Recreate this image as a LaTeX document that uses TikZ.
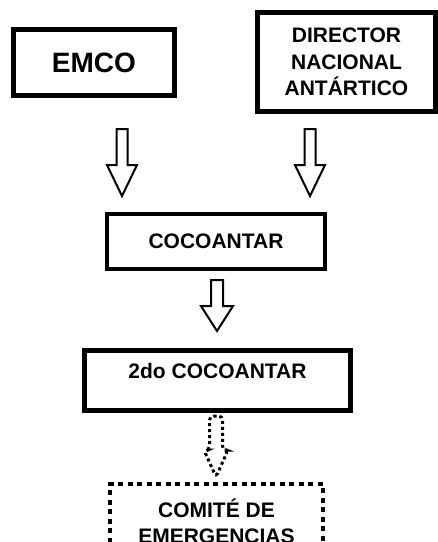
\documentclass[tikz,border=0pt]{standalone}
\usepackage{fontspec}
\setmainfont{Liberation Sans}
\usetikzlibrary{positioning}

\begin{document}
\begin{tikzpicture}[x=1pt,y=-1pt,
    box/.style={draw,line width=4.5pt,inner sep=0pt,align=center,
        font=\bfseries\fontsize{21}{26.5}\selectfont},
    dotbox/.style={draw,line width=4pt,dash pattern=on 5pt off 4.5pt,inner sep=0pt},
    txt/.style={inner sep=0pt,align=center,font=\bfseries\fontsize{21}{26}\selectfont},
    arrowline/.style={draw,line width=2pt,miter limit=20},
    dotarrow/.style={draw,line width=3pt,dash pattern=on 3pt off 3pt,rounded corners=4pt}]
\useasboundingbox (0,0) rectangle (438,542);
\clip (0,0) rectangle (438,542);

% upper boxes
\node[box, minimum width=161, minimum height=66,
      font=\bfseries\fontsize{28}{32}\selectfont] (emco) at (94,62.5) {EMCO};
\node[box, minimum width=178, minimum height=99] (director) at (346.5,62)
    {DIRECTOR\\NACIONAL\\ANTÁRTICO};

% chain below
\node[box, minimum width=218, minimum height=55] (cocoantar) at (216,241.5) {COCOANTAR};
\node[box, minimum width=266, minimum height=60, text depth=20pt] (second) at (217.5,380.5)
    {2do COCOANTAR};
\node[dotbox, minimum width=213, minimum height=100, anchor=north] (comite) at (216.5,482) {};
\node[txt, anchor=north] (comitetxt) at (216.5,499) {COMITÉ DE\\EMERGENCIAS};

% block arrows
\coordinate (emcoarr) at (122,129);
\coordinate (dirarr) at (310,129);
\coordinate (cocoarr) at (217,280);
\coordinate (secarr) at (216,416);

\draw[arrowline] (emcoarr) ++(-5.5,0) -- ++(11,0) -- ++(0,36) -- ++(9.5,0)
    -- ++(-15,31) -- ++(-15,-31) -- ++(9.5,0) -- cycle;
\draw[arrowline] (dirarr) ++(-5.5,0) -- ++(11,0) -- ++(0,36) -- ++(9.5,0)
    -- ++(-15,31) -- ++(-15,-31) -- ++(9.5,0) -- cycle;
\draw[arrowline] (cocoarr) ++(-6,0) -- ++(12,0) -- ++(0,26) -- ++(10,0)
    -- ++(-16,25) -- ++(-16,-25) -- ++(10,0) -- cycle;
\draw[dotarrow] (secarr) ++(-6.5,0) -- ++(13,0) -- ++(0,34) -- ++(5.5,0)
    -- ++(-12,27) -- ++(-12,-27) -- ++(5.5,0) -- cycle;
\end{tikzpicture}
\end{document}
